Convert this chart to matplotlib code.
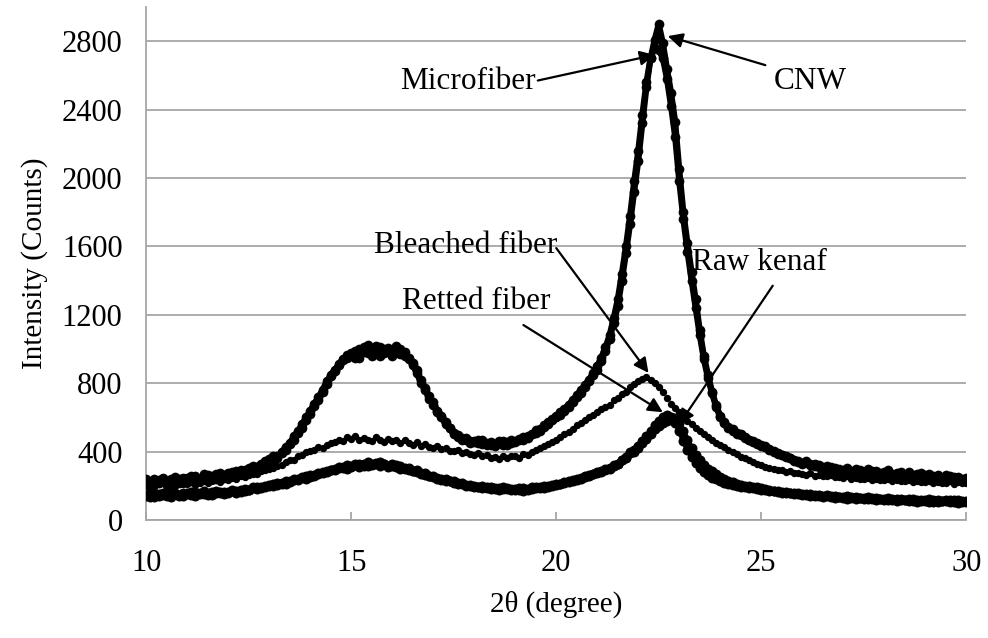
import numpy as np
import matplotlib
matplotlib.use("Agg")
from matplotlib import pyplot as plt

plt.rcParams["font.family"] = ["Liberation Serif", "DejaVu Serif"]

# 2-theta grid, 0.1 degree steps from 10 to 30
two_theta = np.linspace(10, 30, 201)

cnw = [
    225, 210, 238, 218, 232, 205, 240, 226, 215, 244,
    245, 228, 256, 236, 250, 262, 241, 268, 255, 247,
    272, 258, 285, 268, 290, 300, 284, 312, 320, 335,
    350, 338, 372, 390, 410, 445, 470, 510, 540, 585,
    620, 665, 700, 750, 795, 850, 880, 905, 935, 950,
    960, 990, 945, 1010, 975, 990, 1020, 960, 1000, 980,
    990, 1015, 970, 985, 950, 920, 875, 820, 770, 725,
    690, 640, 610, 575, 540, 510, 495, 480, 470, 462,
    455, 468, 445, 452, 440, 445, 460, 438, 455, 448,
    460, 475, 470, 490, 505, 510, 530, 545, 560, 585,
    600, 615, 640, 660, 690, 720, 745, 780, 810, 845,
    880, 930, 990, 1060, 1150, 1250, 1400, 1560, 1730, 1920,
    2100, 2320, 2530, 2700, 2810, 2900, 2790, 2640, 2500, 2330,
    2050, 1800, 1620, 1450, 1290, 1110, 960, 850, 750, 670,
    610, 570, 545, 520, 510, 500, 480, 470, 455, 448,
    440, 425, 415, 400, 390, 380, 372, 360, 350, 342,
    335, 345, 322, 330, 312, 310, 318, 298, 305, 290,
    292, 305, 280, 296, 275, 282, 300, 268, 285, 272,
    272, 290, 260, 275, 265, 262, 280, 250, 270, 255,
    250, 268, 240, 262, 245, 242, 258, 232, 250, 238,
    235,
]

microfiber = [
    240, 222, 215, 236, 248, 228, 220, 252, 238, 230,
    236, 258, 244, 232, 266, 250, 258, 240, 272, 262,
    265, 280, 276, 292, 282, 305, 318, 308, 330, 342,
    355, 372, 365, 400, 425, 450, 490, 520, 560, 600,
    640, 680, 720, 760, 810, 840, 870, 915, 940, 965,
    975, 950, 1000, 985, 1025, 960, 995, 1010, 975, 1005,
    960, 995, 1000, 960, 940, 905, 860, 800, 760, 710,
    670, 630, 600, 560, 535, 505, 485, 470, 478, 450,
    462, 450, 470, 440, 458, 435, 448, 462, 440, 470,
    455, 465, 485, 480, 500, 525, 520, 555, 575, 590,
    610, 630, 650, 675, 700, 730, 760, 790, 820, 860,
    900, 950, 1010, 1080, 1180, 1290, 1440, 1600, 1780, 1980,
    2160, 2370, 2560, 2700, 2760, 2750, 2700, 2580, 2420, 2240,
    1980, 1760, 1570, 1400, 1240, 1080, 940, 830, 740, 660,
    600, 575, 540, 530, 505, 495, 488, 465, 462, 442,
    432, 430, 410, 405, 385, 378, 368, 365, 345, 340,
    328, 338, 325, 318, 320, 305, 300, 310, 292, 298,
    285, 295, 288, 270, 290, 278, 265, 288, 275, 262,
    280, 265, 270, 258, 282, 255, 268, 262, 248, 272,
    262, 245, 255, 250, 238, 262, 240, 252, 245, 232,
    245,
]

bleached = [
    200, 212, 195, 208, 216, 202, 210, 198, 220, 212,
    212, 222, 205, 218, 230, 215, 226, 232, 220, 238,
    235, 245, 240, 255, 250, 262, 270, 268, 285, 290,
    298, 305, 318, 322, 338, 348, 352, 372, 378, 395,
    402, 410, 425, 420, 440, 448, 455, 470, 462, 488,
    472, 490, 465, 478, 470, 462, 485, 470, 458, 475,
    460, 470, 448, 465, 452, 440, 455, 432, 445, 428,
    422, 435, 415, 420, 405, 402, 412, 390, 398, 385,
    382, 392, 375, 380, 362, 370, 355, 372, 360, 375,
    372, 365, 385, 378, 395, 410, 420, 432, 445, 458,
    470, 488, 500, 515, 530, 555, 570, 585, 600, 615,
    630, 648, 660, 675, 700, 715, 735, 750, 780, 795,
    810, 825, 835, 820, 800, 780, 750, 715, 680, 655,
    630, 605, 580, 560, 540, 520, 500, 485, 470, 452,
    440, 428, 412, 400, 385, 370, 360, 348, 338, 328,
    320, 312, 305, 300, 292, 290, 282, 285, 275, 272,
    270, 265, 272, 260, 262, 258, 255, 262, 250, 252,
    248, 255, 242, 248, 238, 240, 245, 235, 242, 232,
    234, 240, 228, 236, 225, 228, 232, 222, 230, 220,
    222, 228, 215, 224, 218, 218, 225, 210, 220, 214,
    215,
]

retted = [
    148, 135, 160, 142, 155, 138, 162, 150, 140, 158,
    158, 145, 165, 150, 168, 160, 148, 170, 155, 162,
    165, 175, 160, 178, 170, 178, 190, 182, 195, 192,
    200, 210, 205, 218, 212, 225, 232, 238, 245, 242,
    250, 262, 270, 275, 285, 290, 298, 305, 310, 300,
    315, 325, 308, 330, 318, 325, 335, 318, 328, 312,
    315, 320, 300, 305, 290, 285, 278, 268, 262, 255,
    250, 242, 235, 230, 225, 218, 212, 208, 200, 198,
    195, 190, 188, 195, 182, 185, 178, 190, 180, 176,
    178, 185, 172, 182, 180, 185, 192, 188, 198, 200,
    205, 212, 215, 225, 228, 235, 245, 250, 262, 268,
    275, 285, 295, 305, 315, 330, 348, 368, 390, 410,
    430, 460, 490, 520, 555, 580, 605, 615, 600, 570,
    520, 460, 410, 370, 335, 305, 280, 262, 248, 238,
    230, 218, 210, 205, 198, 190, 192, 185, 188, 180,
    178, 175, 170, 168, 162, 160, 158, 155, 152, 150,
    148, 152, 142, 146, 140, 138, 145, 132, 140, 135,
    130, 138, 126, 132, 128, 125, 132, 120, 128, 122,
    118, 126, 114, 122, 116, 115, 122, 110, 118, 112,
    112, 120, 108, 116, 110, 110, 118, 104, 114, 108,
    108,
]

raw_kenaf = [
    140, 158, 132, 150, 145, 162, 135, 155, 148, 138,
    150, 165, 142, 160, 152, 148, 165, 155, 162, 150,
    160, 168, 172, 165, 180, 175, 185, 195, 188, 200,
    205, 198, 215, 210, 225, 220, 238, 232, 250, 258,
    262, 255, 275, 282, 278, 295, 290, 312, 305, 320,
    308, 320, 330, 315, 338, 322, 330, 340, 325, 318,
    325, 310, 318, 298, 302, 288, 290, 272, 275, 260,
    258, 248, 240, 238, 228, 225, 215, 215, 205, 202,
    200, 192, 198, 185, 190, 180, 188, 182, 185, 180,
    182, 178, 188, 178, 190, 192, 188, 198, 195, 205,
    210, 208, 222, 220, 232, 240, 240, 255, 258, 270,
    280, 282, 300, 300, 320, 325, 352, 362, 395, 400,
    420, 450, 475, 505, 530, 550, 565, 580, 590, 595,
    570, 520, 470, 420, 380, 350, 320, 300, 285, 270,
    250, 240, 228, 222, 212, 205, 200, 198, 192, 190,
    185, 180, 178, 172, 170, 165, 162, 160, 158, 155,
    152, 145, 150, 140, 145, 135, 140, 138, 130, 136,
    132, 125, 134, 122, 130, 128, 120, 130, 118, 125,
    122, 115, 124, 112, 120, 118, 110, 120, 108, 116,
    115, 108, 118, 106, 112, 114, 105, 116, 102, 110,
    112,
]

fig = plt.figure(figsize=(9.88, 6.38), dpi=100)
ax = fig.add_axes([0.148, 0.185, 0.83, 0.804])

# thick, dense scans
for series in (cnw, microfiber):
    ax.plot(two_theta, series, color="black", lw=4.4, marker="o", ms=7,
            markeredgewidth=0, zorder=3)
for series in (retted, raw_kenaf):
    ax.plot(two_theta, series, color="black", lw=3.6, marker="o", ms=7.2,
            markeredgewidth=0, zorder=3)
# bleached fiber shows up as separate dots
ax.plot(two_theta, bleached, color="black", lw=0, marker="o", ms=5.3,
        markeredgewidth=0, zorder=3)

ax.set_xlim(10, 30)
ax.set_ylim(0, 3000)
ax.set_xticks([10, 15, 20, 25, 30])
ax.set_yticks(np.arange(0, 2801, 400))
ax.yaxis.grid(True, color="#a6a6a6", lw=1.3)
ax.set_axisbelow(True)
for side in ("top", "right"):
    ax.spines[side].set_visible(False)
for side in ("left", "bottom"):
    ax.spines[side].set_color("#a6a6a6")
    ax.spines[side].set_linewidth(1.3)
ax.tick_params(axis="x", direction="in", length=6, width=1.3, color="#a6a6a6",
               labelsize=22, pad=21)
ax.tick_params(axis="y", length=0, labelsize=22, pad=17)

ax.set_xlabel("2θ (degree)", fontsize=21, labelpad=9)
ax.set_ylabel("Intensity (Counts)", fontsize=21, labelpad=10)

arrow = dict(arrowstyle="-|>", color="black", lw=1.6, mutation_scale=22,
             shrinkA=0, shrinkB=0)
labels = [
    ("Microfiber", (17.85, 2565), (19.55, 2570), (22.4, 2720)),
    ("CNW", (26.2, 2565), (25.1, 2660), (22.72, 2830)),
    ("Bleached fiber", (17.8, 1605), (20.0, 1590), (22.25, 860)),
    ("Retted fiber", (18.05, 1275), (19.2, 1140), (22.6, 630)),
    ("Raw kenaf", (24.95, 1505), (25.28, 1370), (23.0, 560)),
]
for text, text_pos, start, end in labels:
    ax.text(*text_pos, text, fontsize=22.5, ha="center", va="center", zorder=4)
    ax.annotate("", xy=end, xytext=start, arrowprops=arrow, zorder=4)

fig.savefig("out.png", dpi=100)
